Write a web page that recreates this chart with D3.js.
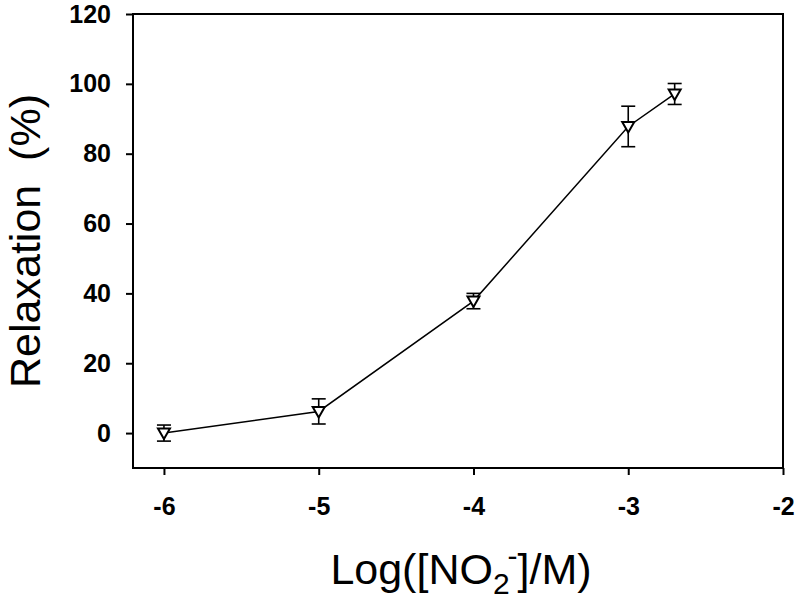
<!DOCTYPE html>
<html>
<head>
<meta charset="utf-8">
<script src="https://cdn.jsdelivr.net/npm/d3@7"></script>
<style>
  body { margin: 0; background: #fff; }
  svg text { font-family: "Liberation Sans", Arial, sans-serif; }
</style>
</head>
<body>
<div id="chart"></div>
<script>
// data
const logConc = [-6, -5, -4, -3, -2.7];
const relaxation = [0, 6.2, 37.8, 87.8, 97.1];
const sem = [2.3, 3.6, 2.2, 5.8, 3];
const xTicks = [-6, -5, -4, -3, -2];
const yTicks = [0, 20, 40, 60, 80, 100, 120];

const width = 800, height = 603;
const margin = { top: 14, right: 17, bottom: 135, left: 133 };

const svg = d3.select("#chart").append("svg")
  .attr("width", width).attr("height", height);

const xScale = d3.scaleLinear().domain([-6.2, -2])
  .range([margin.left, width - margin.right]);
const yScale = d3.scaleLinear().domain([-10, 120])
  .range([height - margin.bottom, margin.top]);

const data = logConc.map((x, i) => ({ x, y: relaxation[i], e: sem[i] }));

// frame
svg.append("rect")
  .attr("x", margin.left).attr("y", margin.top)
  .attr("width", xScale.range()[1] - margin.left)
  .attr("height", yScale.range()[0] - margin.top)
  .attr("fill", "none").attr("stroke", "#000").attr("stroke-width", 2);

// axes
const xAxis = svg.append("g")
  .attr("transform", `translate(0,${yScale.range()[0]})`)
  .call(d3.axisBottom(xScale).tickValues(xTicks).tickSize(7).tickPadding(22).tickFormat(d3.format("d")));
const yAxis = svg.append("g")
  .attr("transform", `translate(${margin.left},0)`)
  .call(d3.axisLeft(yScale).tickValues(yTicks).tickSize(7).tickPadding(15).tickFormat(d3.format("d")));

[xAxis, yAxis].forEach(g => {
  g.select(".domain").remove();
  g.selectAll(".tick line").attr("stroke", "#000").attr("stroke-width", 2);
  g.selectAll(".tick text")
    .attr("fill", "#000")
    .style("font-size", "25px")
    .style("font-weight", "bold")
    .style("font-family", "'Liberation Sans', Arial, sans-serif");
});
xAxis.selectAll(".tick text").attr("dy", "0.71em");
// plain hyphen like the reference
xAxis.selectAll(".tick text").text(d => String(d).replace("\u2212", "-"));

// line
const line = d3.line().x(d => xScale(d.x)).y(d => yScale(d.y));
svg.append("path").datum(data)
  .attr("d", line).attr("fill", "none")
  .attr("stroke", "#000").attr("stroke-width", 1.5);

// error bars
const cap = 7;
const eb = svg.append("g").attr("stroke", "#000").attr("stroke-width", 1.6);
data.forEach(d => {
  const cx = xScale(d.x);
  eb.append("line").attr("x1", cx).attr("x2", cx)
    .attr("y1", yScale(d.y + d.e)).attr("y2", yScale(d.y - d.e));
  eb.append("line").attr("x1", cx - cap).attr("x2", cx + cap)
    .attr("y1", yScale(d.y + d.e)).attr("y2", yScale(d.y + d.e));
  eb.append("line").attr("x1", cx - cap).attr("x2", cx + cap)
    .attr("y1", yScale(d.y - d.e)).attr("y2", yScale(d.y - d.e));
});

// open down triangles
const tri = "M-6,-4.5 L6,-4.5 L0,6 Z";
svg.append("g").selectAll("path.pt").data(data).join("path")
  .attr("class", "pt")
  .attr("d", tri)
  .attr("transform", d => `translate(${xScale(d.x)},${yScale(d.y)})`)
  .attr("fill", "#fff").attr("stroke", "#000").attr("stroke-width", 2);

// axis titles
svg.append("text")
  .attr("transform", "translate(40,241) rotate(-90)")
  .attr("text-anchor", "middle")
  .style("font-size", "43px")
  .attr("xml:space", "preserve")
  .text("Relaxation  (%)");

const xt = svg.append("text")
  .attr("x", 461).attr("y", 584)
  .attr("text-anchor", "middle")
  .style("font-size", "43px");
xt.append("tspan").text("Log([NO");
xt.append("tspan").attr("dy", 10).style("font-size", "30px").text("2");
xt.append("tspan").attr("dy", -28).attr("dx", -2).style("font-size", "30px").text("-");
xt.append("tspan").attr("dy", 18).text("]/M)");
</script>
</body>
</html>
